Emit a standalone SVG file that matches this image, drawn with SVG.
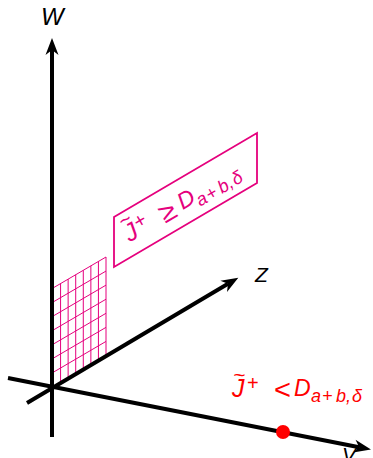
<svg xmlns="http://www.w3.org/2000/svg" width="373" height="458" viewBox="0 0 373 458">
<style>
.axis{stroke:#000;stroke-width:4;fill:none}
.lbl{font-family:"Liberation Sans",Arial,sans-serif;font-style:italic;fill:#000}
.mg{stroke:#e5007d;fill:none}
.mt{font-family:"Liberation Sans",Arial,sans-serif;font-style:italic;fill:#e5007d}
.rt{font-family:"Liberation Sans",Arial,sans-serif;font-style:italic;fill:#ff0000}
.jj{font-size:25px}
.sub{font-size:18px}
.sup{font-size:20px;font-style:normal}
.tl{font-size:21px}
.rel{font-size:28px;font-style:normal}
</style>
<defs>
<marker id="ah" markerUnits="userSpaceOnUse" viewBox="-6 -7 19 14" refX="0" refY="0" markerWidth="19" markerHeight="14" orient="auto">
<path d="M12,0 L-5,-6.5 L0,0 L-5,6.5 Z" fill="#000"/>
</marker>
</defs>
<g id="grid">
<g class="mg" stroke-width="1">
<path d="M53,386.5 L53,288 M60.57,382.07 L60.57,283.57 M68.14,377.64 L68.14,279.14 M75.71,373.21 L75.71,274.71 M83.29,368.79 L83.29,270.29 M90.86,364.36 L90.86,265.86 M98.43,359.93 L98.43,261.43 M106,355.5 L106,257"/>
<path d="M53,386.5 L106,355.5 M53,372.43 L106,341.43 M53,358.36 L106,327.36 M53,344.29 L106,313.29 M53,330.21 L106,299.21 M53,316.14 L106,285.14 M53,302.07 L106,271.07 M53,288 L106,257"/>
</g>
</g>
<g id="connectors">
<line id="axis-w" class="axis" x1="52" y1="437" x2="52" y2="50" marker-end="url(#ah)"/>
<line id="axis-v" class="axis" x1="8" y1="378" x2="359.2" y2="447.2" marker-end="url(#ah)"/>
<line id="axis-z" class="axis" x1="27" y1="403" x2="228" y2="283.8" marker-end="url(#ah)"/>
</g>
<g id="label-w"><text class="lbl" x="41" y="25" font-size="24">W</text></g>
<g id="label-z"><text class="lbl" x="255" y="282" font-size="21">Z</text></g>
<g id="label-v"><text class="lbl" x="342" y="462" font-size="21">V</text></g>
<g id="region-box">
<path class="mg" stroke-width="1.8" d="M114,217 L257,133 L257,183 L114,267 Z"/>
<g transform="translate(186,200) rotate(-30.5)">
<text class="mt" font-size="23" x="-70" y="8"><tspan class="jj">J</tspan><tspan class="tl" x="-69" y="-7">~</tspan><tspan class="sup" x="-56" y="1">+</tspan><tspan class="rel" x="-30" y="10" textLength="16" lengthAdjust="spacingAndGlyphs">≥</tspan><tspan x="-8" y="7">D</tspan><tspan class="sub" x="9" y="13">a</tspan><tspan class="sub" x="20" y="13">+</tspan><tspan class="sub" x="34" y="13">b</tspan><tspan class="sub" x="44" y="13">,</tspan><tspan class="sub" x="50" y="13">δ</tspan></text>
</g>
</g>
<g id="point">
<circle cx="283" cy="432" r="7" fill="#ff0000"/>
<text class="rt" font-size="23" x="232" y="397"><tspan class="jj">J</tspan><tspan class="tl" x="233" y="382">~</tspan><tspan class="sup" x="247" y="390">+</tspan><tspan class="rel" x="274" y="399" textLength="17" lengthAdjust="spacingAndGlyphs">&lt;</tspan><tspan x="294" y="396">D</tspan><tspan class="sub" x="311" y="402">a</tspan><tspan class="sub" x="322" y="402">+</tspan><tspan class="sub" x="336" y="402">b</tspan><tspan class="sub" x="346" y="402">,</tspan><tspan class="sub" x="352" y="402">δ</tspan></text>
</g>
</svg>
